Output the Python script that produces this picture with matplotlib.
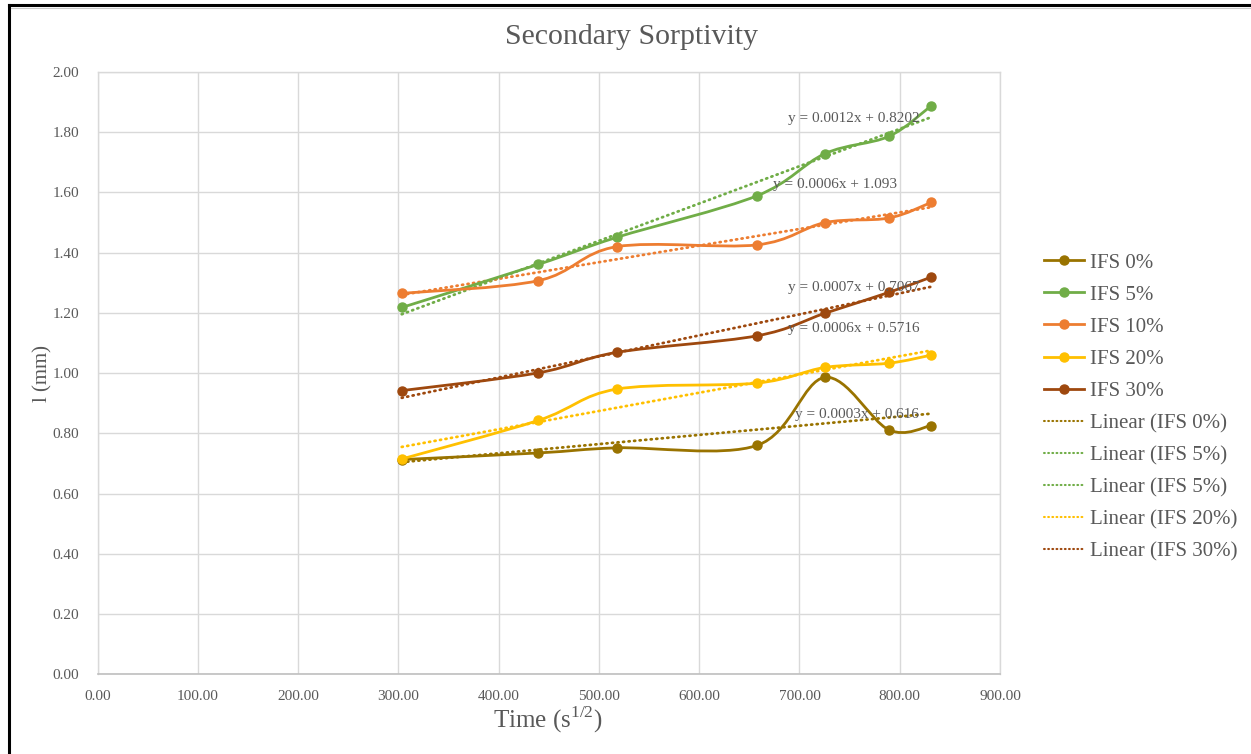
import numpy as np
import matplotlib
matplotlib.use("Agg")
import matplotlib.pyplot as plt
from matplotlib.path import Path
from matplotlib.patches import PathPatch
from matplotlib.lines import Line2D

plt.rcParams['font.family'] = ['Liberation Serif', 'DejaVu Serif']

# ---------------- data ----------------
x_vals = [303.4, 439.5, 517.8, 657.7, 725.5, 789.0, 831.5]
series_names = ["IFS 0%", "IFS 5%", "IFS 10%", "IFS 20%", "IFS 30%"]
ifs0 = [0.713, 0.735, 0.752, 0.760, 0.986, 0.812, 0.826]
ifs5 = [1.218, 1.361, 1.451, 1.589, 1.729, 1.786, 1.888]
ifs10 = [1.265, 1.307, 1.420, 1.426, 1.500, 1.515, 1.567]
ifs20 = [0.715, 0.843, 0.947, 0.967, 1.019, 1.033, 1.060]
ifs30 = [0.942, 1.001, 1.069, 1.124, 1.199, 1.268, 1.319]
series_values = [ifs0, ifs5, ifs10, ifs20, ifs30]
colors = ["#997300", "#70AD47", "#ED7D31", "#FFC000", "#9E480E"]
trend_labels = ["Linear (IFS 0%)", "Linear (IFS 5%)", "Linear (IFS 5%)",
                "Linear (IFS 20%)", "Linear (IFS 30%)"]
trend_legend_colors = ["#997300", "#70AD47", "#70AD47", "#FFC000", "#9E480E"]
equations = ["y = 0.0003x + 0.616", "y = 0.0012x + 0.8202", "y = 0.0006x + 1.093",
             "y = 0.0006x + 0.5716", "y = 0.0007x + 0.7067"]
eq_pos = [(695.5, 0.864), (688.2, 1.847), (673.2, 1.625), (688.2, 1.149), (688.2, 1.286)]
x_ticks = [0, 100, 200, 300, 400, 500, 600, 700, 800, 900]
y_ticks = [0.0, 0.2, 0.4, 0.6, 0.8, 1.0, 1.2, 1.4, 1.6, 1.8, 2.0]

W, H = 1251, 754
fig = plt.figure(figsize=(W / 100, H / 100), dpi=100)
ax = fig.add_axes([97.5 / W, 1 - 674.3 / H, (1000 - 97.5) / W, (674.3 - 72) / H])

txt_col = "#595959"
grid_col = "#D9D9D9"
dot_style = (0, (0.4, 1.6))


def smooth_path(xs, ys):
    pts = np.column_stack([xs, ys]).astype(float)
    n = len(pts)
    verts = [pts[0]]
    codes = [Path.MOVETO]
    for i in range(n - 1):
        p0 = pts[i - 1] if i > 0 else pts[i]
        p1 = pts[i]
        p2 = pts[i + 1]
        p3 = pts[i + 2] if i + 2 < n else pts[i + 1]
        c1 = p1 + (p2 - p0) / 6.0
        c2 = p2 - (p3 - p1) / 6.0
        verts += [c1, c2, p2]
        codes += [Path.CURVE4] * 3
    return Path(verts, codes)


series_handles = []
for name, vals, c in zip(series_names, series_values, colors):
    patch = PathPatch(smooth_path(x_vals, vals), facecolor="none", edgecolor=c,
                      lw=2.0, zorder=4, capstyle="round", joinstyle="round")
    ax.add_patch(patch)
    ax.plot(x_vals, vals, linestyle="none", marker="o", ms=6.5, color=c, zorder=5)
    series_handles.append(Line2D([], [], color=c, lw=2.0, marker="o", ms=6.5, label=name))

trend_handles = []
for vals, c, lab, lc in zip(series_values, colors, trend_labels, trend_legend_colors):
    k, b = np.polyfit(x_vals, vals, 1)
    xs = np.array([x_vals[0], x_vals[-1]])
    ax.plot(xs, k * xs + b, color=c, lw=2.0, linestyle=dot_style,
            dash_capstyle="round", zorder=3)
    trend_handles.append(Line2D([], [], color=lc, lw=1.5, linestyle=dot_style,
                                dash_capstyle="round", label=lab))

for eq, (ex, ey) in zip(equations, eq_pos):
    ax.text(ex, ey, eq, fontsize=11, color=txt_col, ha="left", va="center", zorder=6)

ax.set_xlim(0, 900)
ax.set_ylim(0, 2.0)
ax.set_xticks(x_ticks)
ax.set_yticks(y_ticks)
ax.set_xticklabels([f"{v:.2f}" for v in x_ticks])
ax.set_yticklabels([f"{v:.2f}" for v in y_ticks])
ax.tick_params(length=0, labelsize=11, labelcolor=txt_col)
ax.tick_params(axis="y", pad=13)
ax.tick_params(axis="x", pad=11)
ax.grid(True, color=grid_col, lw=1.0)
ax.set_axisbelow(True)
for s in ["left", "right", "top"]:
    ax.spines[s].set_color(grid_col)
    ax.spines[s].set_linewidth(1.0)
ax.spines["bottom"].set_color("#BFBFBF")
ax.spines["bottom"].set_linewidth(1.2)

fig.text(632 / W, 1 - 37 / H, "Secondary Sorptivity", fontsize=21.5, color=txt_col,
         ha="center", va="center")
fig.text(548 / W, 1 - 720 / H, r"Time (s$^{\mathregular{1/2}}$)", fontsize=18,
         color=txt_col, ha="center", va="center")
fig.text(43 / W, 1 - 374 / H, "l (mm)", fontsize=15, color=txt_col, ha="center",
         va="center", rotation=90)

leg = fig.legend(handles=series_handles + trend_handles, loc="upper left",
                 bbox_to_anchor=(1044 / W, 1 - 253 / H), frameon=False, fontsize=15,
                 handlelength=1.9, handletextpad=0.3, labelspacing=0.6,
                 borderaxespad=0, borderpad=0)
for t in leg.get_texts():
    t.set_color(txt_col)

# chart frame (left and top edges)
fig.add_artist(Line2D([9 / W, 9 / W], [0, 1 - 5 / H], transform=fig.transFigure,
                      color="black", lw=2.2, solid_capstyle="projecting"))
fig.add_artist(Line2D([9 / W, 1], [1 - 5 / H, 1 - 5 / H], transform=fig.transFigure,
                      color="black", lw=2.2, solid_capstyle="projecting"))
fig.add_artist(Line2D([11 / W, 1], [1 - 7.5 / H, 1 - 7.5 / H], transform=fig.transFigure,
                      color="#C8C8C8", lw=0.8))

fig.savefig("out.png", dpi=100, facecolor="white")
